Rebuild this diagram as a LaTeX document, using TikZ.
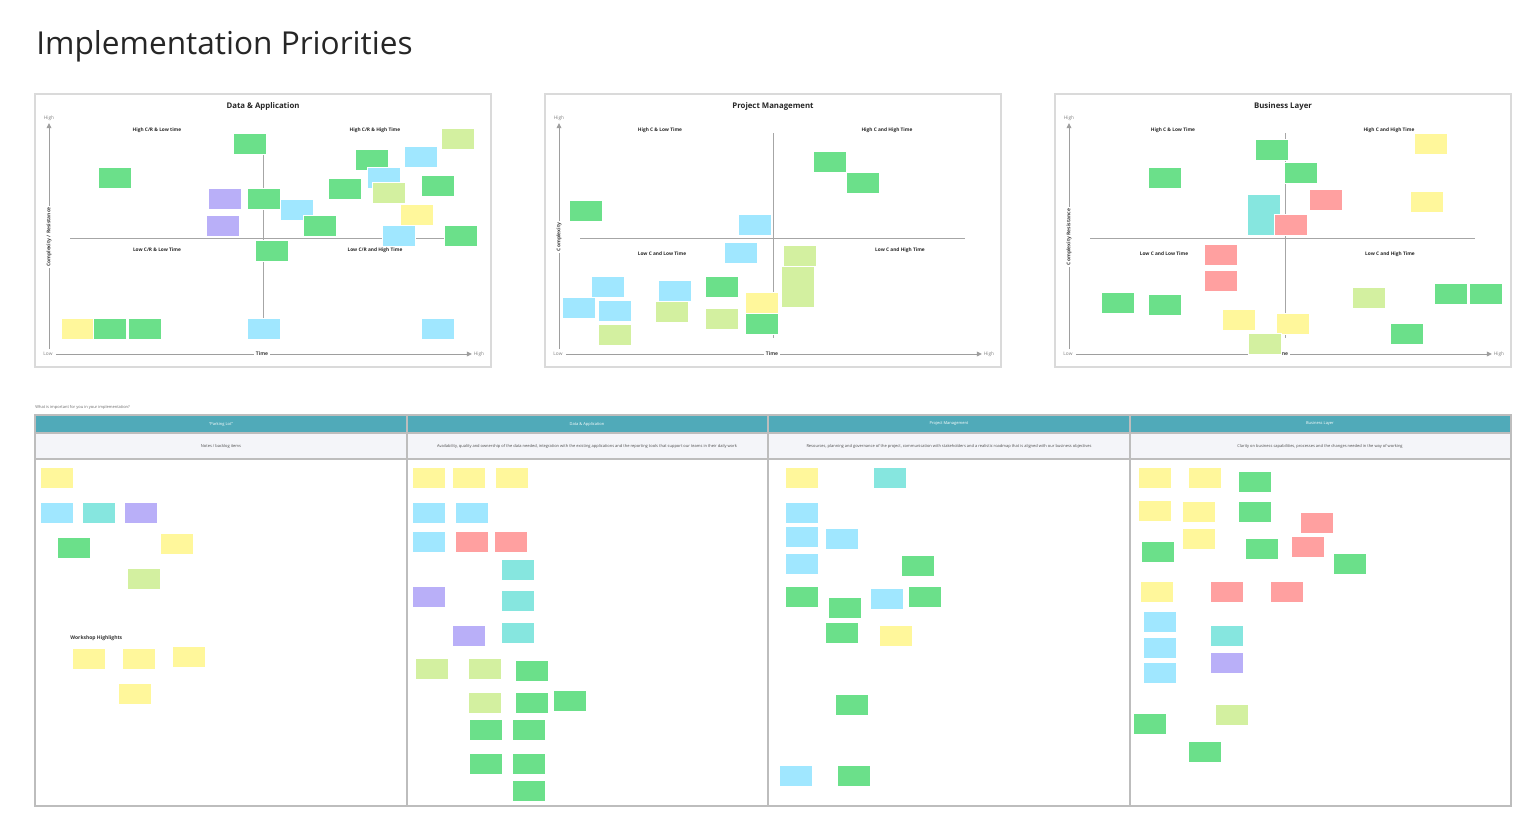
\documentclass[tikz,border=0pt]{standalone}
\usepackage{fontspec}
\setmainfont{Open Sans}
\usetikzlibrary{arrows.meta}
\definecolor{stgreen}{HTML}{6BE08A}
\definecolor{stblue}{HTML}{A0E7FF}
\definecolor{stteal}{HTML}{86E6DF}
\definecolor{stpurple}{HTML}{B9AFF8}
\definecolor{styellow}{HTML}{FFF79B}
\definecolor{stlime}{HTML}{D3F0A0}
\definecolor{stred}{HTML}{FFA0A0}
\definecolor{headteal}{HTML}{50AAB9}
\definecolor{rowgrey}{HTML}{F4F5F9}
\definecolor{framegrey}{HTML}{DADADA}
\definecolor{linegrey}{HTML}{BDBDBD}
\definecolor{axisgrey}{HTML}{9E9E9E}

\tikzset{
  sticky/.style={draw=white, line width=0.3pt, anchor=north west, inner sep=0pt,
    minimum width=16.5pt, minimum height=10.5pt},
  sgreen/.style={sticky, fill=stgreen},
  sblue/.style={sticky, fill=stblue},
  steal/.style={sticky, fill=stteal},
  spurple/.style={sticky, fill=stpurple},
  syellow/.style={sticky, fill=styellow},
  slime/.style={sticky, fill=stlime},
  sred/.style={sticky, fill=stred},
  tall/.style={minimum height=20.5pt},
  chartframe/.style={draw=framegrey, line width=0.7pt},
  charttitle/.style={font=\fontsize{3.9}{4.5}\selectfont\bfseries, text=black!85},
  quadlabel/.style={font=\fontsize{2.4}{3}\selectfont\bfseries, text=black!85},
  axline/.style={draw=axisgrey, line width=0.5pt, -{Triangle[length=2.6pt,width=2.4pt]}},
  axlabel/.style={font=\fontsize{2.4}{3}\selectfont, text=gray, inner sep=0.5pt},
  axname/.style={font=\fontsize{2.5}{3}\selectfont\bfseries, text=black!75, fill=white, inner sep=0.8pt},
  cross/.style={draw=black!35, line width=0.5pt},
  tablehead/.style={font=\fontsize{2}{2.5}\selectfont, text=white},
  tablesub/.style={font=\fontsize{2}{2.5}\selectfont, text=black!70},
}

\begin{document}
\begin{tikzpicture}[x=0.5pt, y=-0.5pt]
\useasboundingbox (0,0) rectangle (1538,836);

\node[anchor=base west, inner sep=0pt, font=\fontsize{15.8}{18}\selectfont, text=black!85] (title) at (36,54) {Implementation Priorities};

% ---- Data & Application
\draw[chartframe] (35,94) rectangle (491,367);
\node[charttitle] (da-title) at (263,106) {Data \& Application};
\coordinate (da-y0) at (49,349); \coordinate (da-y1) at (49,123);
\coordinate (da-x0) at (56,354); \coordinate (da-x1) at (472,354);
\draw[axline] (da-y0) -- (da-y1);
\draw[axline] (da-x0) -- (da-x1);
\node[axlabel] (da-hy) at (49,118) {High};
\node[axlabel] (da-lo) at (48,354) {Low};
\node[axlabel] (da-hx) at (479,354) {High};
\node[axname] (da-time) at (262,354) {Time};
\node[axname, rotate=90] (da-cr) at (49,237) {Complexity / Resistance};
\coordinate (da-hl) at (70,238); \coordinate (da-hr) at (476,238);
\coordinate (da-vt) at (263,133); \coordinate (da-vb) at (263,338);
\draw[cross] (da-hl) -- (da-hr);
\draw[cross] (da-vt) -- (da-vb);
\node[quadlabel] (da-q1) at (157,130) {High C/R \& Low time};
\node[quadlabel] (da-q2) at (375,130) {High C/R \& High Time};
\node[quadlabel] (da-q3) at (157,250) {Low C/R \& Low Time};
\node[quadlabel] (da-q4) at (375,250) {Low C/R and High Time};
\node[sgreen] (da1) at (233,133) {};
\node[sgreen] (da2) at (98,167) {};
\node[spurple] (da3) at (208,188) {};
\node[sgreen] (da4) at (247,188) {};
\node[sblue] (da5) at (280,199) {};
\node[spurple] (da6) at (206,215) {};
\node[sgreen] (da7) at (303,215) {};
\node[sgreen] (da8) at (355,149) {};
\node[sblue] (da9) at (367,167) {};
\node[sgreen] (da10) at (328,178) {};
\node[slime] (da11) at (372,182) {};
\node[sblue] (da12) at (404,146) {};
\node[slime] (da13) at (441,128) {};
\node[sgreen] (da14) at (421,175) {};
\node[syellow] (da15) at (400,204) {};
\node[sblue] (da16) at (382,225) {};
\node[sgreen] (da17) at (444,225) {};
\node[sgreen] (da18) at (255,240) {};
\node[syellow] (da19) at (61,318) {};
\node[sgreen] (da20) at (93,318) {};
\node[sgreen] (da21) at (128,318) {};
\node[sblue] (da22) at (247,318) {};
\node[sblue] (da23) at (421,318) {};

% ---- Project Management
\draw[chartframe] (545,94) rectangle (1001,367);
\node[charttitle] (pm-title) at (773,106) {Project Management};
\coordinate (pm-y0) at (559,349); \coordinate (pm-y1) at (559,123);
\coordinate (pm-x0) at (566,354); \coordinate (pm-x1) at (982,354);
\draw[axline] (pm-y0) -- (pm-y1);
\draw[axline] (pm-x0) -- (pm-x1);
\node[axlabel] (pm-hy) at (559,118) {High};
\node[axlabel] (pm-lo) at (558,354) {Low};
\node[axlabel] (pm-hx) at (989,354) {High};
\node[axname] (pm-time) at (772,354) {Time};
\node[axname, rotate=90] (pm-c) at (559,237) {Complexity};
\coordinate (pm-hl) at (580,238); \coordinate (pm-hr) at (965,238);
\coordinate (pm-vt) at (773,133); \coordinate (pm-vb) at (773,338);
\draw[cross] (pm-hl) -- (pm-hr);
\draw[cross] (pm-vt) -- (pm-vb);
\node[quadlabel] (pm-q1) at (660,130) {High C \& Low Time};
\node[quadlabel] (pm-q2) at (887,130) {High C and High Time};
\node[quadlabel] (pm-q3) at (662,254) {Low C and Low Time};
\node[quadlabel] (pm-q4) at (900,250) {Low C and High Time};
\node[sgreen] (pm1) at (813,151) {};
\node[sgreen] (pm2) at (846,172) {};
\node[sgreen] (pm3) at (569,200) {};
\node[sblue] (pm4) at (738,214) {};
\node[sblue] (pm5) at (724,242) {};
\node[slime] (pm6) at (783,245) {};
\node[slime, tall] (pm7) at (781,266) {};
\node[sblue] (pm8) at (591,276) {};
\node[sblue] (pm9) at (658,280) {};
\node[sgreen] (pm10) at (705,276) {};
\node[sblue] (pm11) at (562,297) {};
\node[sblue] (pm12) at (598,300) {};
\node[slime] (pm13) at (655,301) {};
\node[syellow] (pm14) at (745,292) {};
\node[slime] (pm15) at (705,308) {};
\node[sgreen] (pm16) at (745,313) {};
\node[slime] (pm17) at (598,324) {};

% ---- Business Layer
\draw[chartframe] (1055,94) rectangle (1511,367);
\node[charttitle] (bl-title) at (1283,106) {Business Layer};
\coordinate (bl-y0) at (1069,349); \coordinate (bl-y1) at (1069,123);
\coordinate (bl-x0) at (1076,354); \coordinate (bl-x1) at (1492,354);
\draw[axline] (bl-y0) -- (bl-y1);
\draw[axline] (bl-x0) -- (bl-x1);
\node[axlabel] (bl-hy) at (1069,118) {High};
\node[axlabel] (bl-lo) at (1068,354) {Low};
\node[axlabel] (bl-hx) at (1499,354) {High};
\node[axname] (bl-time) at (1282,354) {Time};
\node[axname, rotate=90] (bl-cr) at (1069,237) {Complexity Resistance};
\coordinate (bl-hl) at (1090,238); \coordinate (bl-hr) at (1475,238);
\coordinate (bl-vt) at (1285,133); \coordinate (bl-vb) at (1285,338);
\draw[cross] (bl-hl) -- (bl-hr);
\draw[cross] (bl-vt) -- (bl-vb);
\node[quadlabel] (bl-q1) at (1173,130) {High C \& Low Time};
\node[quadlabel] (bl-q2) at (1389,130) {High C and High Time};
\node[quadlabel] (bl-q3) at (1164,254) {Low C and Low Time};
\node[quadlabel] (bl-q4) at (1390,254) {Low C and High Time};
\node[sgreen] (bl1) at (1255,139) {};
\node[sgreen] (bl2) at (1284,162) {};
\node[sgreen] (bl3) at (1148,167) {};
\node[syellow] (bl4) at (1414,133) {};
\node[sred] (bl5) at (1309,189) {};
\node[syellow] (bl6) at (1410,191) {};
\node[steal, tall] (bl7) at (1247,194) {};
\node[sred] (bl8) at (1274,214) {};
\node[sred] (bl9) at (1204,244) {};
\node[sred] (bl10) at (1204,270) {};
\node[sgreen] (bl11) at (1101,292) {};
\node[sgreen] (bl12) at (1148,294) {};
\node[slime] (bl13) at (1352,287) {};
\node[sgreen] (bl14) at (1434,283) {};
\node[sgreen] (bl15) at (1469,283) {};
\node[syellow] (bl16) at (1222,309) {};
\node[syellow] (bl17) at (1276,313) {};
\node[sgreen] (bl18) at (1390,323) {};
\node[slime] (bl19) at (1248,333) {};

% ---- table
\node[anchor=west, inner sep=0pt, font=\fontsize{2}{2.5}\selectfont, text=black!60] (tb-q) at (35,407) {What is important for you in your implementation?};
\fill[headteal] (35,415) rectangle (1511,433);
\fill[rowgrey] (35,433) rectangle (1511,459);
\draw[linegrey, line width=0.7pt] (35,415) rectangle (1511,806);
\draw[linegrey, line width=0.7pt] (35,433) -- (1511,433);
\draw[linegrey, line width=1.1pt] (35,459) -- (1511,459);
\foreach \cx in {407,768,1130}
  \draw[linegrey, line width=0.9pt] (\cx,415) -- (\cx,806);
\node[tablehead] (pl-h) at (221,424) {``Parking Lot''};
\node[tablehead] (tda-h) at (587,424) {Data \& Application};
\node[tablehead] (tpm-h) at (949,424) {Project Management};
\node[tablehead] (tbl-h) at (1320,424) {Business Layer};
\node[tablesub] (pl-s) at (221,446) {Notes / backlog items};
\node[tablesub] (tda-s) at (587,446) {Availability, quality and ownership of the data needed, integration with the existing applications and the reporting tools that support our teams in their daily work};
\node[tablesub] (tpm-s) at (949,446) {Resources, planning and governance of the project, communication with stakeholders and a realistic roadmap that is aligned with our business objectives};
\node[tablesub] (tbl-s) at (1320,446) {Clarity on business capabilities, processes and the changes needed in the way of working};

% parking lot
\node[syellow] (pl1) at (40,467) {};
\node[sblue] (pl2) at (40,502) {};
\node[steal] (pl3) at (82,502) {};
\node[spurple] (pl4) at (124,502) {};
\node[sgreen] (pl5) at (57,537) {};
\node[syellow] (pl6) at (160,533) {};
\node[slime] (pl7) at (127,568) {};
\node[anchor=west, inner sep=0pt, font=\fontsize{2.5}{3}\selectfont\bfseries, text=black!80] (pl-ws) at (70,638) {Workshop Highlights};
\node[syellow] (pl8) at (72,648) {};
\node[syellow] (pl9) at (122,648) {};
\node[syellow] (pl10) at (172,646) {};
\node[syellow] (pl11) at (118,683) {};

% data & application
\node[syellow] (tda1) at (412,467) {};
\node[syellow] (tda2) at (452,467) {};
\node[syellow] (tda3) at (495,467) {};
\node[sblue] (tda4) at (412,502) {};
\node[sblue] (tda5) at (455,502) {};
\node[sblue] (tda6) at (412,531) {};
\node[sred] (tda7) at (455,531) {};
\node[sred] (tda8) at (494,531) {};
\node[steal] (tda9) at (501,559) {};
\node[steal] (tda10) at (501,590) {};
\node[steal] (tda11) at (501,622) {};
\node[spurple] (tda12) at (412,586) {};
\node[spurple] (tda13) at (452,625) {};
\node[slime] (tda14) at (415,658) {};
\node[slime] (tda15) at (468,658) {};
\node[sgreen] (tda16) at (515,660) {};
\node[slime] (tda17) at (468,692) {};
\node[sgreen] (tda18) at (515,692) {};
\node[sgreen] (tda19) at (553,690) {};
\node[sgreen] (tda20) at (469,719) {};
\node[sgreen] (tda21) at (512,719) {};
\node[sgreen] (tda22) at (469,753) {};
\node[sgreen] (tda23) at (512,753) {};
\node[sgreen] (tda24) at (512,780) {};

% project management
\node[syellow] (tpm1) at (785,467) {};
\node[steal] (tpm2) at (873,467) {};
\node[sblue] (tpm3) at (785,502) {};
\node[sblue] (tpm4) at (785,526) {};
\node[sblue] (tpm5) at (825,528) {};
\node[sblue] (tpm6) at (785,553) {};
\node[sgreen] (tpm7) at (901,555) {};
\node[sgreen] (tpm8) at (785,586) {};
\node[sgreen] (tpm9) at (828,597) {};
\node[sblue] (tpm10) at (870,588) {};
\node[sgreen] (tpm11) at (908,586) {};
\node[sgreen] (tpm12) at (825,622) {};
\node[syellow] (tpm13) at (879,625) {};
\node[sgreen] (tpm14) at (835,694) {};
\node[sblue] (tpm15) at (779,765) {};
\node[sgreen] (tpm16) at (837,765) {};

% business layer
\node[syellow] (tbl1) at (1138,467) {};
\node[syellow] (tbl2) at (1188,467) {};
\node[sgreen] (tbl3) at (1238,471) {};
\node[syellow] (tbl4) at (1138,500) {};
\node[syellow] (tbl5) at (1182,501) {};
\node[sgreen] (tbl6) at (1238,501) {};
\node[sred] (tbl7) at (1300,512) {};
\node[syellow] (tbl8) at (1182,528) {};
\node[sgreen] (tbl9) at (1141,541) {};
\node[sgreen] (tbl10) at (1245,538) {};
\node[sred] (tbl11) at (1291,536) {};
\node[sgreen] (tbl12) at (1333,553) {};
\node[syellow] (tbl13) at (1140,581) {};
\node[sred] (tbl14) at (1210,581) {};
\node[sred] (tbl15) at (1270,581) {};
\node[sblue] (tbl16) at (1143,611) {};
\node[steal] (tbl17) at (1210,625) {};
\node[sblue] (tbl18) at (1143,637) {};
\node[spurple] (tbl19) at (1210,652) {};
\node[sblue] (tbl20) at (1143,662) {};
\node[slime] (tbl21) at (1215,704) {};
\node[sgreen] (tbl22) at (1133,713) {};
\node[sgreen] (tbl23) at (1188,741) {};
\end{tikzpicture}
\end{document}
